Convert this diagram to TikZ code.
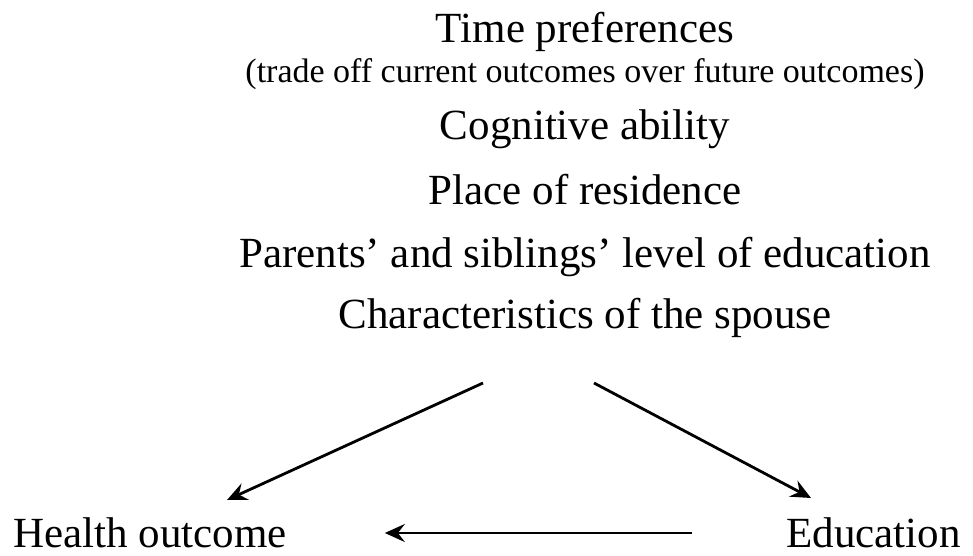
\documentclass[tikz,border=0pt]{standalone}
\usepackage{fontspec}
\setmainfont{Liberation Serif}
\usetikzlibrary{arrows.meta}
\begin{document}
\begin{tikzpicture}[x=1pt,y=-1pt,
  big/.style={font=\fontsize{43}{48}\selectfont, inner sep=0pt, anchor=base},
  small/.style={font=\fontsize{34}{38}\selectfont, inner sep=0pt, anchor=base},
  arr/.style={line width=2.8pt, -{Stealth[length=20pt,width=18pt,inset=7pt]}}]
\useasboundingbox (0,0) rectangle (973,556);
\node[big] (tp) at (585,43) {Time preferences};
\node[small] (sub) at (585,83) {(trade off current outcomes over future outcomes)};
\node[big] (cog) at (585,140) {Cognitive ability};
\node[big] (res) at (585,204) {Place of residence};
\node[big] (par) at (585,267) {Parents’ and siblings’ level of education};
\node[big] (spo) at (585,328) {Characteristics of the spouse};
\node[big, anchor=base west] (health) at (13,547) {Health outcome};
\node[big, anchor=base east] (edu) at (961,547) {Education};
\coordinate (s1) at (483,383);
\coordinate (s2) at (594,383);
\coordinate (t1) at (227,500);
\coordinate (t2) at (811,498);
\draw[arr] (s1) -- (t1);
\draw[arr] (s2) -- (t2);
\draw[arr, shorten <=94pt, shorten >=98pt] (edu.west |- 0,533) -- (health.east |- 0,533);
\end{tikzpicture}
\end{document}
